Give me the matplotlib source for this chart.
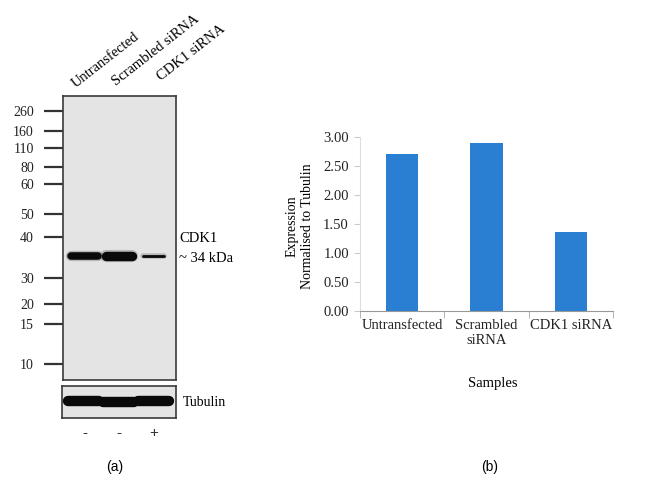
import matplotlib.pyplot as plt
import numpy as np

# ---- data ----
lanes = ["Untransfected", "Scrambled siRNA", "CDK1 siRNA"]
sirna_sign = ["-", "-", "+"]
ladder_kda = [260, 160, 110, 80, 60, 50, 40, 30, 20, 15, 10]
ladder_pos = [15, 35, 52, 71, 88, 118, 141, 182, 208, 228, 268]   # migration in blot (px from top)
cdk1_pos = 160
cdk1_intensity = [0.8, 1.0, 0.3]
cdk1_halfwidth = [0.40, 0.38, 0.30]
tubulin_intensity = [1.0, 1.0, 1.0]

samples = ["Untransfected", "Scrambled\nsiRNA", "CDK1 siRNA"]
expression = [2.70, 2.90, 1.37]

W, H = 650, 501
serif = ["Liberation Serif", "DejaVu Serif"]
sans = ["Liberation Sans", "DejaVu Sans"]


def fx(x):
    return x / W


def fy(y):
    return 1 - y / H


fig = plt.figure(figsize=(6.5, 5.01), dpi=100)

# ---- panel (a): western blot ----
blot = fig.add_axes([fx(63), fy(380), fx(113), 284 / H])
blot.set_facecolor("#e4e4e4")
blot.set_xlim(-0.62, 2.65)
blot.set_ylim(284, 0)
blot.set_xticks([])
blot.set_yticks(ladder_pos, labels=[str(k) for k in ladder_kda])
blot.tick_params(axis="y", length=14, width=1.6, color="#333333", pad=7,
                 labelsize=10, labelcolor="#222222")
for lbl in blot.get_yticklabels():
    lbl.set_family(serif)
for s in blot.spines.values():
    s.set_color("#3a3a3a")
    s.set_linewidth(1.2)

for i, (inten, hw) in enumerate(zip(cdk1_intensity, cdk1_halfwidth)):
    lw = 6.8 * inten
    blot.plot([i - hw, i + hw], [cdk1_pos, cdk1_pos], color="#111111",
              lw=lw + 2.0, alpha=0.2, solid_capstyle="round")
    blot.plot([i - hw, i + hw], [cdk1_pos, cdk1_pos], color="#0a0a0a",
              lw=lw, solid_capstyle="round")

fig.text(fx(179), fy(239), "CDK1", family=serif, fontsize=10.5, va="center")
fig.text(fx(179), fy(258), "~ 34 kDa", family=serif, fontsize=10.5, va="center")

tub = fig.add_axes([fx(62), fy(418), fx(114), 32 / H])
tub.set_facecolor("#e4e4e4")
tub.set_xlim(-0.62, 2.65)
tub.set_ylim(32, 0)
tub.set_xticks([])
tub.set_yticks([])
for s in tub.spines.values():
    s.set_color("#3a3a3a")
    s.set_linewidth(1.2)
tub_y = [15, 16.2, 15.4]
for i, inten in enumerate(tubulin_intensity):
    tub.plot([i - 0.45, i + 0.45], [tub_y[i], tub_y[i]], color="#0a0a0a",
             lw=7.5 * inten, solid_capstyle="round")
fig.text(fx(183), fy(403), "Tubulin", family=serif, fontsize=10, va="center")

lane_px = [84.5, 118.5, 153.5]
lane_start = [(78, 90), (118, 88), (163, 83)]
for (x, y), name in zip(lane_start, lanes):
    fig.text(fx(x), fy(y), name, family=serif, fontsize=10.5, rotation=38,
             rotation_mode="anchor", ha="left", va="bottom")
for x, sgn in zip(lane_px, sirna_sign):
    fig.text(fx(x), fy(433), sgn, family=sans, fontsize=11, ha="center",
             va="center", color="#333333")

fig.text(fx(115), fy(467), "(a)", family=sans, fontsize=10, ha="center", va="center")

# ---- panel (b): bar chart ----
ax = fig.add_axes([fx(360), fy(311), fx(253), 174 / H])
x = np.arange(len(samples))
ax.bar(x, expression, width=0.38, color="#2b7fd3")
ax.set_xlim(-0.5, 2.5)
ax.set_ylim(0, 3)
ax.set_yticks(np.arange(0, 3.01, 0.5))
ax.set_yticklabels([f"{v:.2f}" for v in np.arange(0, 3.01, 0.5)])
ax.set_xticks(x, labels=samples)
ax.set_xticks([-0.5, 0.5, 1.5, 2.5], minor=True)
ax.tick_params(axis="x", which="major", length=0, pad=6, labelsize=10.5)
ax.tick_params(axis="x", which="minor", length=5, color="#aaaaaa")
ax.tick_params(axis="y", length=4, color="#cccccc", pad=4, labelsize=10.5)
for lbl in ax.get_xticklabels() + ax.get_yticklabels():
    lbl.set_family(serif)
    lbl.set_color("#222222")
for side in ["top", "right"]:
    ax.spines[side].set_visible(False)
ax.spines["left"].set_color("#dddddd")
ax.spines["bottom"].set_color("#999999")

fig.text(fx(300), fy(226), "Expression\nNormalised to Tubulin", family=serif,
         fontsize=10, rotation=90, ha="center", va="center", multialignment="center")
fig.text(fx(493), fy(383), "Samples", family=serif, fontsize=10.5, ha="center", va="center")
fig.text(fx(490), fy(467), "(b)", family=sans, fontsize=10, ha="center", va="center")

fig.savefig("out.png", dpi=100)
